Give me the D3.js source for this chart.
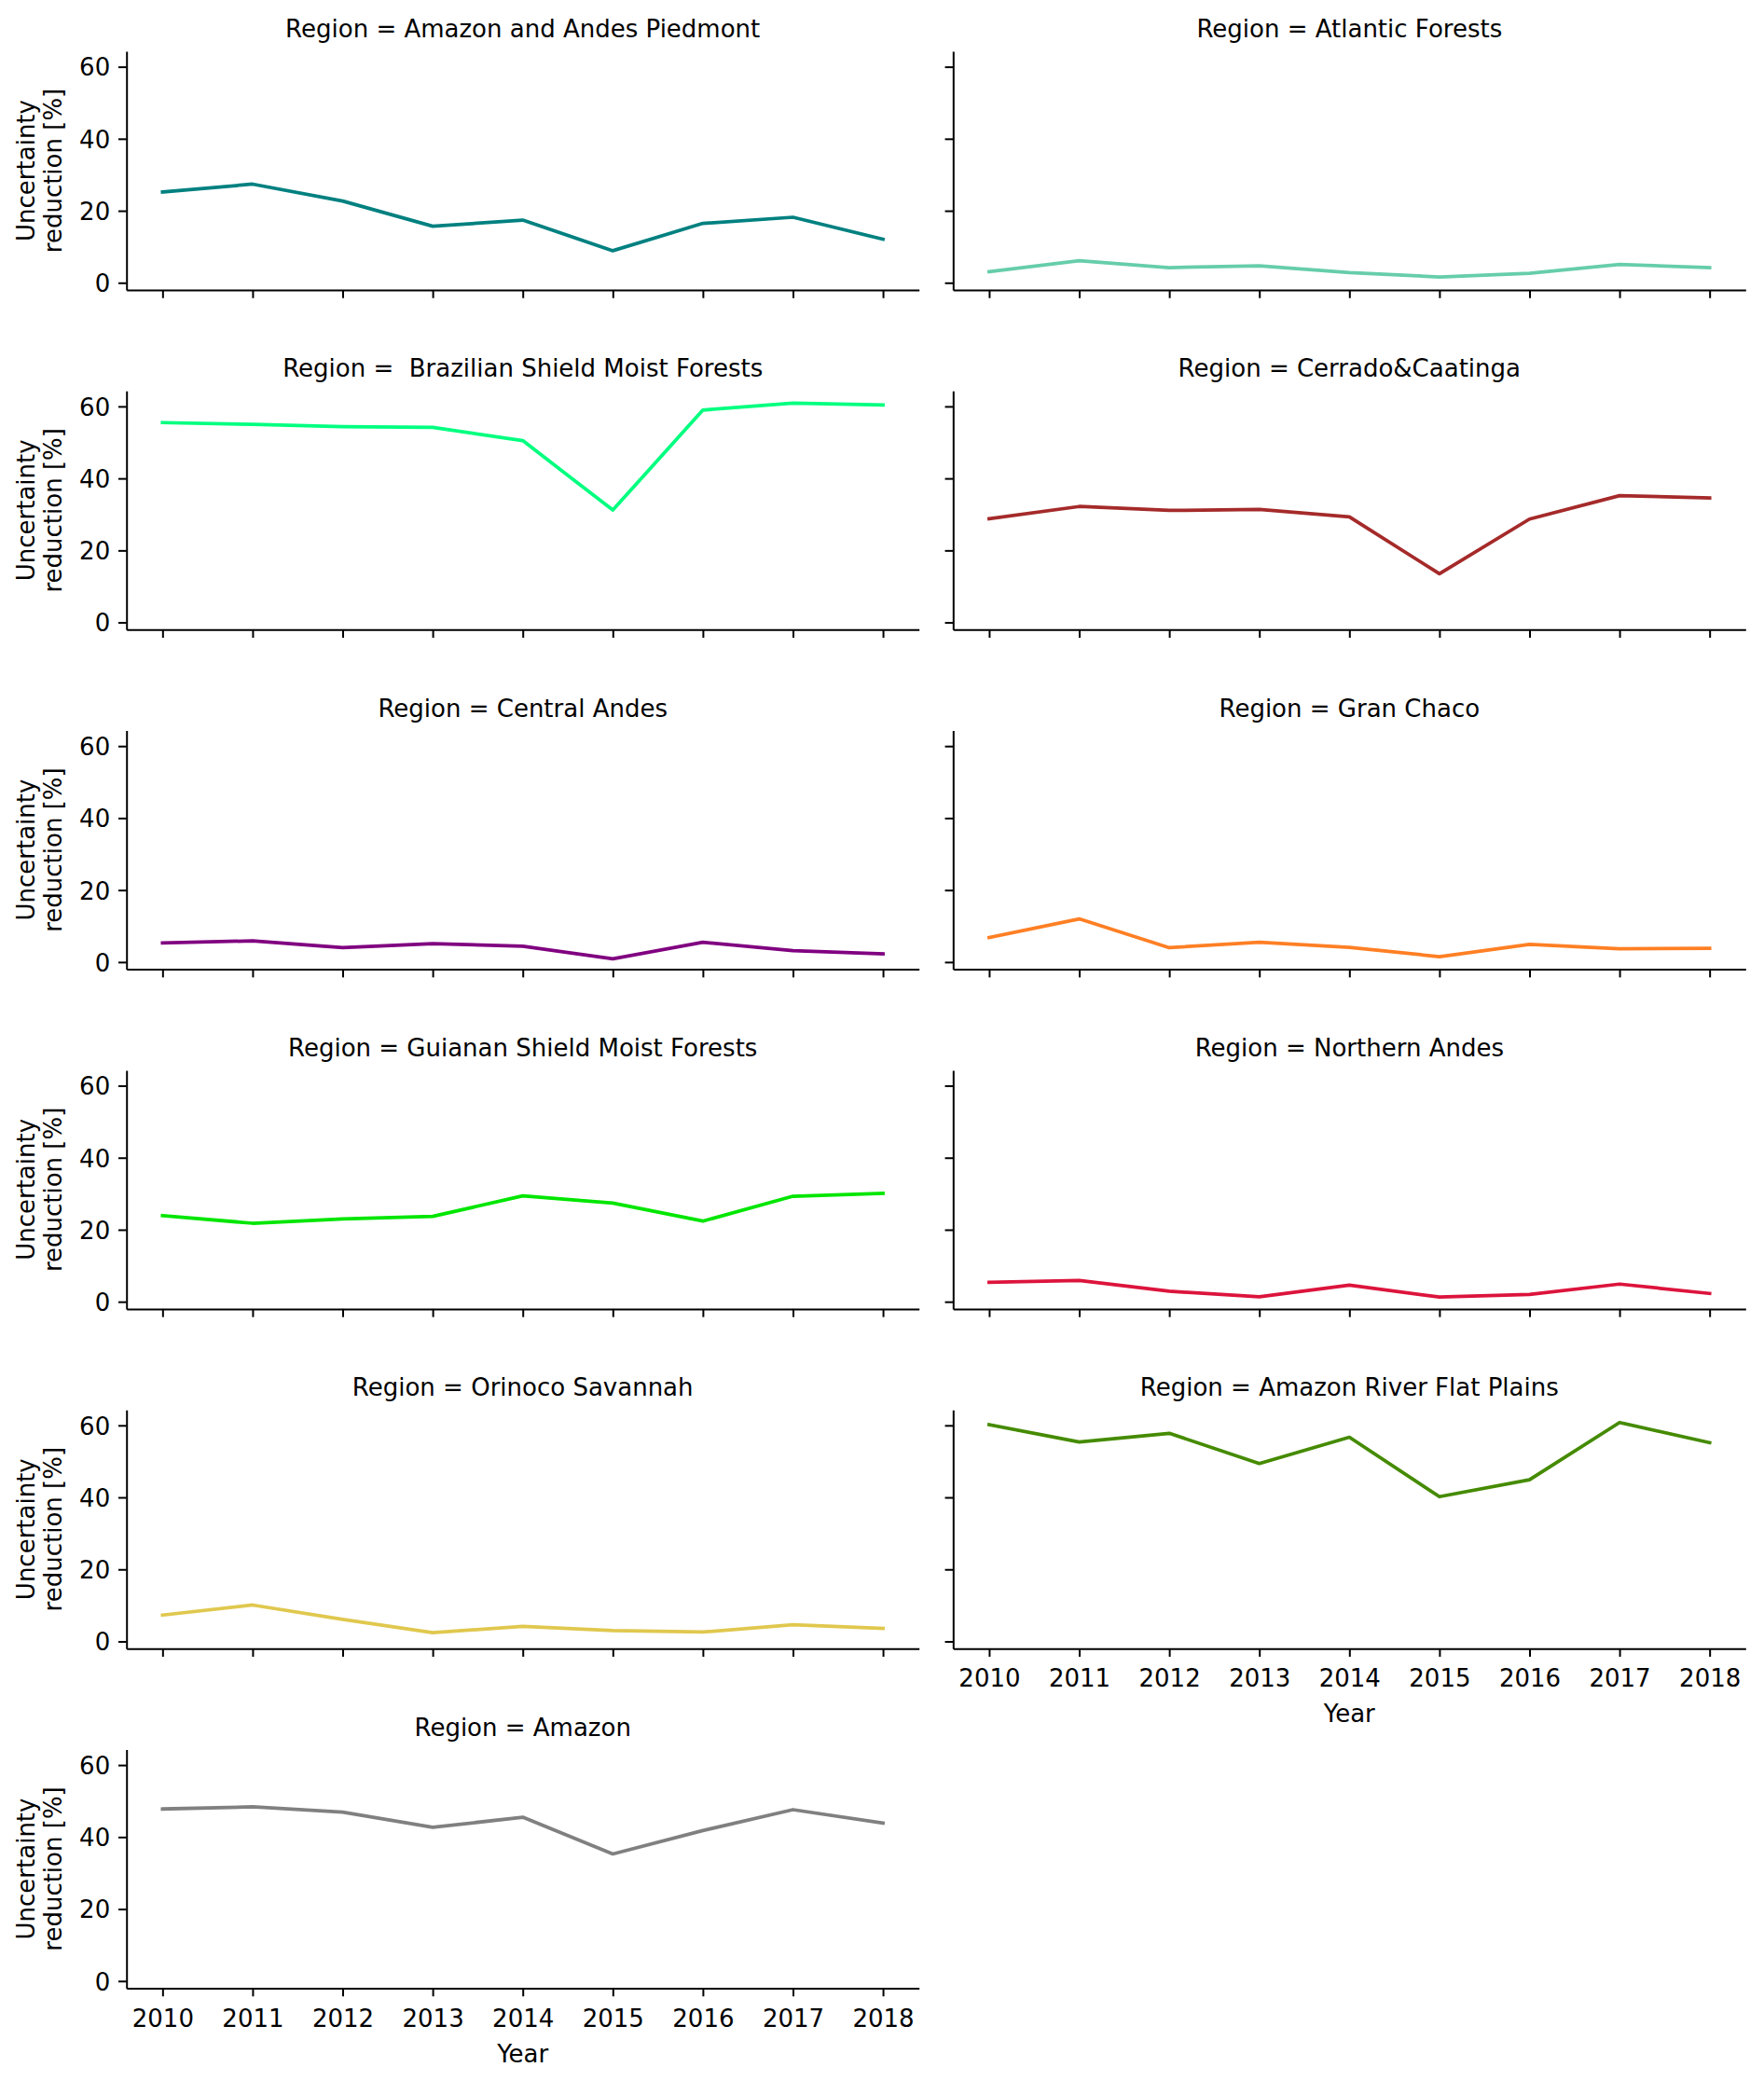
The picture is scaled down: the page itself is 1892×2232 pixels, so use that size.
<!DOCTYPE html>
<html>
<head>
<meta charset="utf-8">
<script src="https://cdn.jsdelivr.net/npm/d3@7"></script>
<style>
  html, body { margin: 0; padding: 0; background: #fff; }
  svg { display: block; }
  text { font-family: "DejaVu Sans", sans-serif; fill: #000; }
</style>
</head>
<body>
<svg id="chart" width="1892" height="2232"></svg>
<script>
// ---------- data ----------
const years = [2010, 2011, 2012, 2013, 2014, 2015, 2016, 2017, 2018];
const yTicks = [0, 20, 40, 60];

const regions = [
  "Amazon and Andes Piedmont", "Atlantic Forests",
  " Brazilian Shield Moist Forests", "Cerrado&Caatinga",
  "Central Andes", "Gran Chaco",
  "Guianan Shield Moist Forests", "Northern Andes",
  "Orinoco Savannah", "Amazon River Flat Plains",
  "Amazon"
];
const regionColors = [
  "#008080", "#66CDAA",
  "#00FF7F", "#A52A2A",
  "#800080", "#FF7F24",
  "#00E600", "#DC143C",
  "#E0C84E", "#458B00",
  "#808080"
];

const amazonAndesPiedmont = [25.2, 27.4, 22.7, 15.7, 17.4, 8.9, 16.5, 18.2, 12.1];
const atlanticForests     = [3.1, 6.1, 4.2, 4.7, 2.8, 1.6, 2.6, 5.1, 4.2];
const brazilianShield     = [55.5, 55.0, 54.4, 54.2, 50.5, 31.2, 59.0, 60.9, 60.4];
const cerradoCaatinga     = [28.8, 32.2, 31.1, 31.4, 29.3, 13.5, 28.7, 35.2, 34.6];
const centralAndes        = [5.3, 5.9, 4.0, 5.1, 4.4, 0.9, 5.5, 3.2, 2.3];
const granChaco           = [6.8, 12.0, 4.0, 5.5, 4.1, 1.5, 4.9, 3.7, 3.8];
const guiananShield       = [23.9, 21.8, 23.0, 23.7, 29.4, 27.4, 22.4, 29.3, 30.1];
const northernAndes       = [5.4, 5.9, 2.9, 1.4, 4.6, 1.3, 2.0, 4.9, 2.3];
const orinocoSavannah     = [7.3, 10.1, 6.1, 2.4, 4.2, 3.0, 2.6, 4.6, 3.6];
const amazonRiverPlains   = [60.2, 55.4, 57.8, 49.4, 56.7, 40.2, 44.9, 60.8, 55.2];
const amazon              = [47.8, 48.4, 46.9, 42.7, 45.5, 35.3, 41.8, 47.6, 43.9];

const seriesValues = [
  amazonAndesPiedmont, atlanticForests,
  brazilianShield, cerradoCaatinga,
  centralAndes, granChaco,
  guiananShield, northernAndes,
  orinocoSavannah, amazonRiverPlains,
  amazon
];

// ---------- layout ----------
const svg = d3.select("#chart");
const colX = [135.7, 1022.3];
const axW = 850, axH = 256;
const rowTop0 = 55, rowPitch = 364.3;
const FONT = 26;
const tickLen = 8.75, tickPad = 8.75;
const xDomain = [2009.6, 2018.4];
const yDomain = [-2.0, 64.3];

const nCols = 2;
const nPanels = regions.length;
const hasNoPanelBelow = (i) => i + nCols >= nPanels;

regions.forEach((name, i) => {
  const col = i % nCols, row = Math.floor(i / nCols);
  const x0 = colX[col], top = rowTop0 + row * rowPitch;
  const x = d3.scaleLinear().domain(xDomain).range([x0, x0 + axW]);
  const y = d3.scaleLinear().domain(yDomain).range([top + axH, top]);
  const g = svg.append("g");

  // line
  const line = d3.line().x((d, k) => x(years[k])).y(d => y(d));
  g.append("path")
    .datum(seriesValues[i])
    .attr("d", line)
    .attr("fill", "none")
    .attr("stroke", regionColors[i])
    .attr("stroke-width", 3.75)
    .attr("stroke-linejoin", "round")
    .attr("stroke-linecap", "square");

  // y axis
  const showYLabels = col === 0;
  const yAxis = d3.axisLeft(y).tickValues(yTicks)
    .tickSize(tickLen).tickSizeOuter(0).tickPadding(tickPad)
    .tickFormat(showYLabels ? d3.format("d") : () => "");
  const ga = g.append("g").attr("transform", `translate(${x0},0)`).call(yAxis);
  ga.attr("font-size", null).attr("font-family", null);
  ga.selectAll("path.domain").attr("stroke", "#000").attr("stroke-width", 2);
  ga.selectAll(".tick line").attr("stroke", "#000").attr("stroke-width", 2);
  ga.selectAll(".tick text").attr("font-size", FONT).attr("dy", "0.36em").attr("fill", "#000");

  // x axis
  const showXLabels = hasNoPanelBelow(i);
  const xAxis = d3.axisBottom(x).tickValues(years)
    .tickSize(tickLen).tickSizeOuter(0).tickPadding(tickPad)
    .tickFormat(showXLabels ? d3.format("d") : () => "");
  const gx = g.append("g").attr("transform", `translate(0,${top + axH})`).call(xAxis);
  gx.attr("font-size", null).attr("font-family", null);
  gx.selectAll("path.domain").attr("stroke", "#000").attr("stroke-width", 2);
  gx.selectAll(".tick line").attr("stroke", "#000").attr("stroke-width", 2);
  gx.selectAll(".tick text").attr("font-size", FONT).attr("y", 41).attr("dy", 0).attr("fill", "#000");

  // title
  g.append("text")
    .attr("x", x0 + axW / 2)
    .attr("y", top - 15)
    .attr("text-anchor", "middle")
    .attr("font-size", FONT)
    .style("white-space", "pre")
    .text("Region = " + name);

  // y label
  if (showYLabels) {
    const cy = top + axH / 2;
    const yl = g.append("text")
      .attr("transform", `translate(0,${cy}) rotate(-90)`)
      .attr("text-anchor", "middle")
      .attr("font-size", FONT);
    yl.append("tspan").attr("x", 0).attr("y", 37).text("Uncertainty");
    yl.append("tspan").attr("x", 0).attr("y", 66).text("reduction [%]");
  }

  // x label
  if (showXLabels) {
    g.append("text")
      .attr("x", x0 + axW / 2)
      .attr("y", top + axH + 79)
      .attr("text-anchor", "middle")
      .attr("font-size", FONT)
      .text("Year");
  }
});
</script>
</body>
</html>
